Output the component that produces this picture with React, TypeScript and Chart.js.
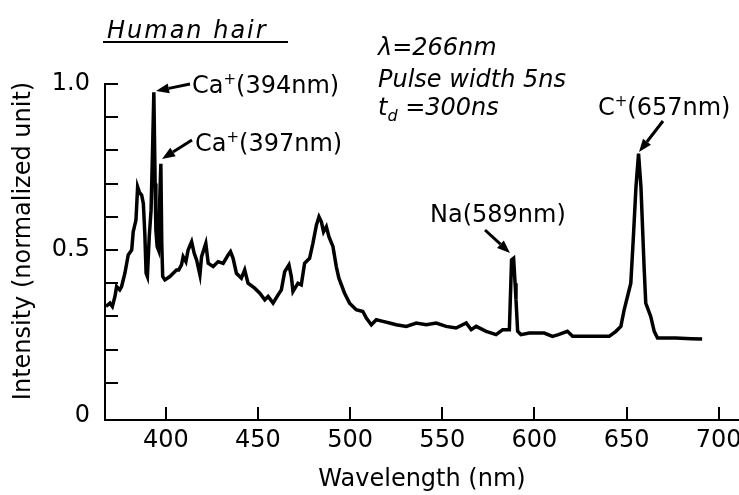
import React, { useEffect, useRef } from 'react';
import { Chart, registerables } from 'chart.js';

Chart.register(...registerables);

// ---- data ----
const wavelengths = [
  367.5, 369.7, 371, 372.4, 373.3, 375, 376, 377.8, 379.6, 381.5, 382.3, 383.8, 384.7, 385.6, 386.9, 387.8,
  388.6, 389.3, 390, 391, 392, 392.8, 393.5, 394.2, 394.6, 395.3, 396, 396.7, 397.3, 397.8, 398.3, 399.5,
  402.2, 404, 405.8, 407, 408.5, 409.4, 410.9, 412.1, 414, 415.4, 416.7, 418.5, 419.4, 421.7, 423, 425.7,
  428.4, 431.1, 433.8, 435.1, 436.5, 438.3, 441, 442.8, 444.6, 448.2, 451, 453.7, 455.5, 458.2, 460.9,
  462.7, 464.5, 466.8, 468.1, 469, 471.7, 473.5, 475.3, 478, 479.8, 481.7, 483.1, 484.4, 485.6, 487.1,
  488.5, 490.7, 492.5, 493.9,
  497, 499.7, 503.3, 506.9, 508.8, 511.5, 514.2, 517.8, 521.4, 525, 530.5, 535.9, 541.3, 546.7, 552.1, 557.5,
  563, 565.7, 568.4, 573.8, 579.2, 582.8, 586.4, 587.6, 588.7, 589.5, 590, 590.9, 592.7, 597.2, 602.6, 605.3,
  609.8, 613, 617.9, 620.7, 626.1, 631.5, 640.6, 644.2, 646.9, 648.7, 650.5, 652.3, 653.6, 655.1, 656.5, 657.8,
  659.5, 660.4, 663.1, 665, 666.8, 676.7, 685, 691,
];
const intensities = [
  0.33, 0.34, 0.33, 0.36, 0.39, 0.38, 0.39, 0.43, 0.485, 0.5, 0.555, 0.59, 0.69, 0.675, 0.665, 0.64,
  0.55, 0.43, 0.42, 0.54, 0.62, 0.8, 0.975, 0.7, 0.56, 0.51, 0.5, 0.65, 0.76, 0.52, 0.42, 0.41,
  0.42, 0.43, 0.44, 0.44, 0.455, 0.48, 0.465, 0.5, 0.525, 0.49, 0.47, 0.425, 0.48, 0.52, 0.46, 0.45,
  0.465, 0.46, 0.485, 0.495, 0.475, 0.43, 0.415, 0.44, 0.4, 0.385, 0.37, 0.35, 0.36, 0.34, 0.365,
  0.38, 0.435, 0.455, 0.42, 0.375, 0.4, 0.395, 0.46, 0.475, 0.52, 0.575, 0.6, 0.585, 0.555, 0.57,
  0.54, 0.51, 0.45, 0.415,
  0.37, 0.34, 0.32, 0.315, 0.295, 0.275, 0.29, 0.285, 0.28, 0.275, 0.27, 0.28, 0.275, 0.28, 0.27, 0.265,
  0.28, 0.26, 0.27, 0.255, 0.245, 0.26, 0.26, 0.47, 0.475, 0.4, 0.35, 0.255, 0.245, 0.25, 0.25, 0.25,
  0.24, 0.245, 0.255, 0.24, 0.24, 0.24, 0.24, 0.255, 0.27, 0.32, 0.36, 0.4, 0.53, 0.69, 0.79, 0.69,
  0.45, 0.34, 0.3, 0.255, 0.235, 0.235, 0.233, 0.232,
];
const xTickValues = [400, 450, 500, 550, 600, 650, 700];
const yTickValues = [0.1, 0.2, 0.3, 0.4, 0.5, 0.6, 0.7, 0.8, 0.9, 1.0];
const yLabelValues = [0, 0.5, 1.0];
const yLabelTexts = ['0', '0.5', '1.0'];

const titleText = 'Human hair';
const yTitleText = 'Intensity (normalized unit)';
const paramLines = ['λ=266nm', 'Pulse width 5ns'];
const delayMain = 't';
const delaySub = 'd';
const delayRest = ' =300ns';

// peak labels: [element, superscript, rest]
const peakLabels = [
  { name: 'Ca', sup: '+', rest: '(394nm)' },
  { name: 'Ca', sup: '+', rest: '(397nm)' },
  { name: 'Na', sup: '', rest: '(589nm)' },
  { name: 'C', sup: '+', rest: '(657nm)' },
];

// layout of annotations (pixels)
const peakLabelPos = [
  { x: 192, y: 93, from: [190, 84], to: [156, 91] },
  { x: 195, y: 151, from: [192, 140], to: [162, 159] },
  { x: 430, y: 222, from: [485, 230], to: [510, 253] },
  { x: 598, y: 115, from: [663, 121], to: [639, 152] },
];

const FONT = '"DejaVu Sans"';

function drawArrow(ctx: CanvasRenderingContext2D, from: number[], to: number[]) {
  const [x1, y1] = from;
  const [x2, y2] = to;
  const ang = Math.atan2(y2 - y1, x2 - x1);
  const len = 13;
  const half = 5;
  const bx = x2 - len * Math.cos(ang);
  const by = y2 - len * Math.sin(ang);
  ctx.beginPath();
  ctx.moveTo(x1, y1);
  ctx.lineTo(bx, by);
  ctx.lineWidth = 3;
  ctx.stroke();
  ctx.beginPath();
  ctx.moveTo(x2, y2);
  ctx.lineTo(bx + half * Math.sin(ang), by - half * Math.cos(ang));
  ctx.lineTo(bx - half * Math.sin(ang), by + half * Math.cos(ang));
  ctx.closePath();
  ctx.fill();
}

const annotationPlugin = {
  id: 'annotations',
  afterDraw(chart: any) {
    const ctx: CanvasRenderingContext2D = chart.ctx;
    const xs = chart.scales.x;
    const ys = chart.scales.y;
    const { left, bottom } = chart.chartArea;
    ctx.save();
    ctx.strokeStyle = '#000';
    ctx.fillStyle = '#000';
    ctx.lineWidth = 2;
    // inward tick marks
    xTickValues.forEach((v) => {
      const px = Math.round(xs.getPixelForValue(v));
      ctx.beginPath();
      ctx.moveTo(px, bottom);
      ctx.lineTo(px, bottom - 13);
      ctx.stroke();
    });
    yTickValues.forEach((v) => {
      const py = Math.round(ys.getPixelForValue(v));
      ctx.beginPath();
      ctx.moveTo(left, py);
      ctx.lineTo(left + 13, py);
      ctx.stroke();
    });

    // y axis title
    ctx.save();
    ctx.translate(24, 241);
    ctx.rotate(-Math.PI / 2);
    ctx.textAlign = 'center';
    ctx.textBaseline = 'middle';
    ctx.font = `24px ${FONT}`;
    ctx.fillText(yTitleText, 0, 0);
    ctx.restore();

    // title
    ctx.textBaseline = 'alphabetic';
    ctx.textAlign = 'left';
    ctx.font = `italic 24px ${FONT}`;
    (ctx as any).letterSpacing = '2px';
    ctx.fillText(titleText, 107, 38);
    (ctx as any).letterSpacing = '0px';
    ctx.fillRect(103, 41, 185, 2);

    // parameters
    ctx.font = `italic 24px ${FONT}`;
    ctx.fillText(paramLines[0], 378, 55);
    ctx.fillText(paramLines[1], 378, 87);
    ctx.fillText(delayMain, 378, 115);
    let dx = 378 + ctx.measureText(delayMain).width;
    ctx.font = `italic 16px ${FONT}`;
    ctx.fillText(delaySub, dx, 121);
    dx += ctx.measureText(delaySub).width;
    ctx.font = `italic 24px ${FONT}`;
    ctx.fillText(delayRest, dx, 115);

    // peak labels
    peakLabels.forEach((lab, i) => {
      const p = peakLabelPos[i];
      let x = p.x;
      ctx.font = `24px ${FONT}`;
      ctx.fillText(lab.name, x, p.y);
      x += ctx.measureText(lab.name).width;
      if (lab.sup) {
        ctx.font = `15px ${FONT}`;
        ctx.fillText(lab.sup, x, p.y - 9);
        x += ctx.measureText(lab.sup).width;
      }
      ctx.font = `24px ${FONT}`;
      ctx.fillText(lab.rest, x, p.y);
      drawArrow(ctx, p.from, p.to);
    });
    ctx.restore();
  },
};

export default function App() {
  const ref = useRef<HTMLCanvasElement | null>(null);
  useEffect(() => {
    if (!ref.current) return;
    const chart = new Chart(ref.current, {
      type: 'line',
      data: {
        datasets: [
          {
            data: wavelengths.map((w, i) => ({ x: w, y: intensities[i] })),
            borderColor: '#000',
            borderWidth: 3.5,
            pointRadius: 0,
            tension: 0,
            fill: false,
          },
        ],
      },
      options: {
        animation: false,
        responsive: false,
        maintainAspectRatio: false,
        layout: { padding: { top: 84, right: 0, left: 0, bottom: 0 } },
        plugins: { legend: { display: false }, tooltip: { enabled: false } },
        scales: {
          x: {
            type: 'linear',
            min: 367,
            max: 711,
            afterFit: (s: any) => {
              s.height = 75;
              s.paddingLeft = 0;
              s.paddingRight = 0;
            },
            grid: { display: false, drawTicks: false },
            border: { display: true, color: '#000', width: 2 },
            ticks: {
              stepSize: 50,
              includeBounds: false,
              autoSkip: false,
              maxRotation: 0,
              padding: 6,
              color: '#000',
              font: { family: FONT, size: 24 },
              callback: (v: any) => (xTickValues.includes(Number(v)) ? String(v) : ''),
            },
            title: {
              display: true,
              text: 'Wavelength (nm)',
              color: '#000',
              font: { family: FONT, size: 24 },
              padding: { top: 0, bottom: 1 },
            },
          },
          y: {
            type: 'linear',
            min: -0.012,
            max: 1.0,
            afterFit: (s: any) => {
              s.width = 105;
              s.paddingTop = 0;
              s.paddingBottom = 0;
            },
            grid: { display: false, drawTicks: false },
            border: { display: true, color: '#000', width: 2 },
            ticks: {
              stepSize: 0.1,
              includeBounds: false,
              autoSkip: false,
              padding: 15,
              color: '#000',
              font: { family: FONT, size: 24 },
              callback: (v: any) => {
                const idx = yLabelValues.findIndex((l) => Math.abs(l - Number(v)) < 1e-6);
                return idx >= 0 ? yLabelTexts[idx] : '';
              },
            },
            title: { display: false },
          },
        },
      },
      plugins: [annotationPlugin],
    } as any);
    return () => chart.destroy();
  }, []);
  return (
    <div style={{ position: 'fixed', left: 0, top: 0, width: 739, height: 495, background: '#fff' }}>
      <canvas ref={ref} width={739} height={495} style={{ width: 739, height: 495, display: 'block' }} />
    </div>
  );
}
